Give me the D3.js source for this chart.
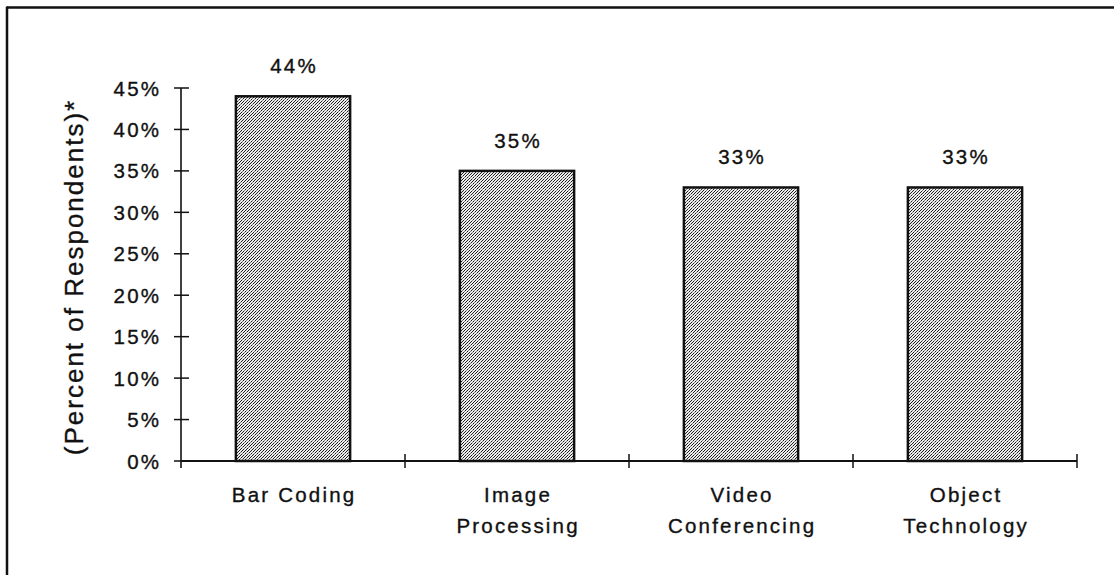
<!DOCTYPE html>
<html>
<head>
<meta charset="utf-8">
<script src="https://cdn.jsdelivr.net/npm/d3@7"></script>
<style>
  html, body { margin: 0; padding: 0; background: #fff; }
  svg { display: block; }
  text { font-family: "Liberation Sans", Arial, sans-serif; fill: #111; stroke: #111; stroke-width: 0.35px; }
</style>
</head>
<body>
<svg id="chart" width="1114" height="575"></svg>
<script>
const categories = [["Bar Coding"], ["Image", "Processing"], ["Video", "Conferencing"], ["Object", "Technology"]];
const values = [44, 35, 33, 33];
const yTicks = [0, 5, 10, 15, 20, 25, 30, 35, 40, 45];
const yTitle = "(Percent of Respondents)*";

const svg = d3.select("#chart");
const W = 1114, H = 575;

// pattern fill for bars (diagonal dotted hatch)
const defs = svg.append("defs");
const pat = defs.append("pattern")
  .attr("id", "hatch").attr("patternUnits", "userSpaceOnUse")
  .attr("x", 0).attr("y", 0)
  .attr("width", 6).attr("height", 6);
pat.append("rect").attr("width", 6).attr("height", 6).attr("fill", "#ececec");
const dots = [];
for (let i = 0; i < 6; i++) for (let j = 0; j < 6; j++) {
  if ((i + j) % 3 === 2) dots.push([i, j]);
}
pat.selectAll("rect.d").data(dots).enter().append("rect")
  .attr("class", "d").attr("x", d => d[0]).attr("y", d => d[1])
  .attr("width", 1).attr("height", 1)
  .attr("fill", (d, k) => ((d[0] + 2 * d[1]) % 4 === 0 ? "#777" : "#1e1e1e"))
  .attr("shape-rendering", "crispEdges");

// frame
svg.append("line").attr("x1", 7).attr("y1", 7.5).attr("x2", W).attr("y2", 7.5)
  .attr("stroke", "#111").attr("stroke-width", 2.5);
svg.append("line").attr("x1", 7).attr("y1", 6.5).attr("x2", 7).attr("y2", H)
  .attr("stroke", "#111").attr("stroke-width", 2.5);

const x = d3.scaleBand().domain(categories.map(d => d.join(" ")))
  .range([181, 1077]).paddingInner(0.49).paddingOuter(0.245);
const y = d3.scaleLinear().domain([0, 45]).range([461, 88]);

const fontSize = 20.5, ls = 2.2;

// bars
svg.selectAll("rect.bar").data(values).enter().append("rect")
  .attr("class", "bar")
  .attr("x", (d, i) => x(categories[i].join(" ")))
  .attr("y", d => y(d))
  .attr("width", x.bandwidth())
  .attr("height", d => y(0) - y(d))
  .attr("fill", "url(#hatch)")
  .attr("stroke", "#111").attr("stroke-width", 2.5);

// value labels
svg.selectAll("text.val").data(values).enter().append("text")
  .attr("class", "val")
  .attr("x", (d, i) => x(categories[i].join(" ")) + x.bandwidth() / 2 + ls / 2)
  .attr("y", d => y(d) - 23)
  .attr("text-anchor", "middle")
  .style("font-size", fontSize + "px").style("letter-spacing", ls + "px")
  .text(d => d + "%");

// y axis
const yAxis = svg.append("g");
yAxis.append("line").attr("x1", 181).attr("x2", 181).attr("y1", y(45)).attr("y2", y(0) + 7)
  .attr("stroke", "#111").attr("stroke-width", 1.6);
yAxis.selectAll("line.t").data(yTicks).enter().append("line")
  .attr("class", "t")
  .attr("x1", 174).attr("x2", 189)
  .attr("y1", d => y(d)).attr("y2", d => y(d))
  .attr("stroke", "#111").attr("stroke-width", 1.5);
yAxis.selectAll("text.t").data(yTicks).enter().append("text")
  .attr("class", "t")
  .attr("x", 159 + ls).attr("y", d => y(d) + 7.5)
  .attr("text-anchor", "end")
  .style("font-size", fontSize + "px").style("letter-spacing", ls + "px")
  .text(d => d + "%");

// x axis
const xAxis = svg.append("g");
xAxis.append("line").attr("x1", 181).attr("x2", 1077).attr("y1", y(0)).attr("y2", y(0))
  .attr("stroke", "#111").attr("stroke-width", 2);
const bounds = categories.map(d => x(d.join(" ")) - x.step() * x.paddingInner() / 2);
bounds.push(x.range()[1]);
xAxis.selectAll("line.t").data(bounds.slice(1)).enter().append("line")
  .attr("class", "t")
  .attr("x1", d => d).attr("x2", d => d)
  .attr("y1", y(0) - 7).attr("y2", y(0) + 7)
  .attr("stroke", "#111").attr("stroke-width", 1.5);

// category labels
categories.forEach((lines, i) => {
  const cx = x(lines.join(" ")) + x.bandwidth() / 2 + ls / 2;
  const t = svg.append("text")
    .attr("text-anchor", "middle")
    .style("font-size", fontSize + "px").style("letter-spacing", ls + "px");
  lines.forEach((ln, j) => {
    t.append("tspan").attr("x", cx).attr("y", 502 + j * 31).text(ln);
  });
});

// y title
svg.append("text")
  .attr("transform", "translate(83,277) rotate(-90)")
  .attr("text-anchor", "middle")
  .style("font-size", "26px").style("letter-spacing", "2px")
  .text(yTitle);
</script>
</body>
</html>
